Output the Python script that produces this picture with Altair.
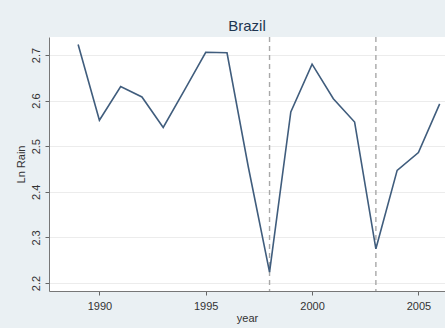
import altair as alt
import pandas as pd

# Annual log rainfall for Brazil
years = [1989, 1990, 1991, 1992, 1993, 1994, 1995, 1996, 1997, 1998,
         1999, 2000, 2001, 2002, 2003, 2004, 2005, 2006]
ln_rain = [2.723, 2.557, 2.631, 2.608, 2.541, 2.623, 2.706, 2.705, 2.455, 2.224,
           2.575, 2.680, 2.604, 2.553, 2.275, 2.447, 2.486, 2.593]

# Reference years marked with dashed vertical lines
marker_years = [1998, 2003]

x_ticks = [1990, 1995, 2000, 2005]
y_ticks = [2.2, 2.3, 2.4, 2.5, 2.6, 2.7]

df = pd.DataFrame({"year": years, "ln_rain": ln_rain})
markers = pd.DataFrame({"year": marker_years})

font = "Liberation Sans"

x_scale = alt.Scale(domain=[1987.63, 2006.25], nice=False, zero=False)
y_scale = alt.Scale(domain=[2.1825, 2.7395], nice=False, zero=False)

line = alt.Chart(df).mark_line(color="#405d7d", strokeWidth=1.6, clip=True).encode(
    x=alt.X("year:Q", scale=x_scale, title="year",
            axis=alt.Axis(values=x_ticks, format="d", grid=False,
                          tickSize=4, tickColor="#666666", domainColor="#777777",
                          labelPadding=5, labelFontSize=11, labelColor="#333333",
                          titleFontSize=11, titleFontWeight="normal", titleColor="#333333",
                          titlePadding=1, labelFont=font, titleFont=font)),
    y=alt.Y("ln_rain:Q", scale=y_scale, title="Ln Rain",
            axis=alt.Axis(values=y_ticks, format=".1f", grid=True, gridColor="#ececec",
                          tickSize=4, tickColor="#666666", domainColor="#777777",
                          labelAngle=270, labelAlign="center", labelBaseline="bottom",
                          labelPadding=4, labelFontSize=11, labelColor="#333333",
                          titleFontSize=11, titleFontWeight="normal", titleColor="#333333",
                          titlePadding=4, labelFont=font, titleFont=font)),
)

rules = alt.Chart(markers).mark_rule(color="#a8a8a8", strokeWidth=1.4,
                                     strokeDash=[5, 4]).encode(
    x=alt.X("year:Q", scale=x_scale)
)

chart = alt.layer(rules, line).properties(
    width=396,
    height=254,
    title=alt.TitleParams("Brazil", fontSize=15, fontWeight="normal", color="#1e3550",
                          font=font, offset=2, anchor="middle"),
    autosize=alt.AutoSizeParams(type="none"),
    padding={"left": 49, "top": 37, "right": 0, "bottom": 37},
    background="#eaf0f3",
).configure_view(fill="white", stroke=None)

chart.save("out.html", embed_options={"renderer": "svg", "actions": False})
